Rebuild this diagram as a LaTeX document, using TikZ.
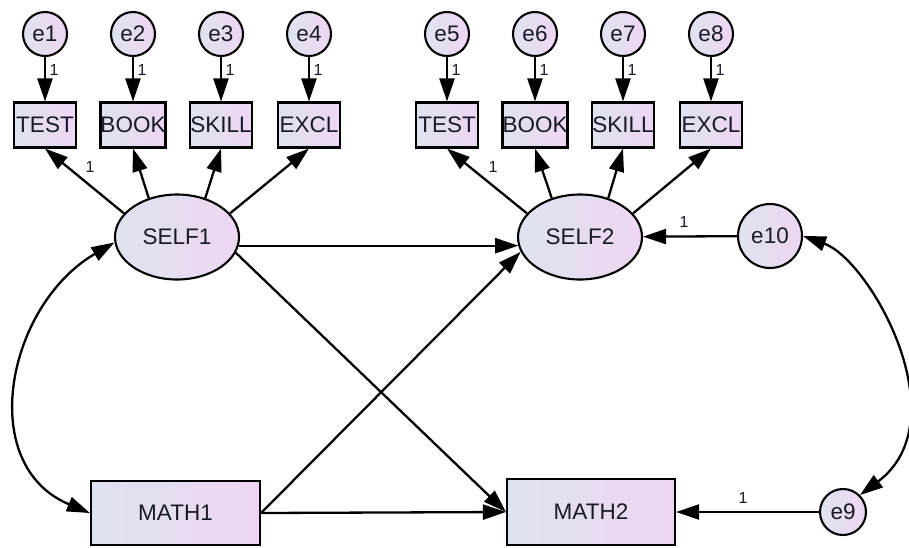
\documentclass[tikz,border=0pt]{standalone}
\usepackage{fontspec}
\setmainfont{Liberation Sans}
\usetikzlibrary{arrows.meta,shapes.geometric}
\definecolor{fillL}{RGB}{222,227,239}
\definecolor{fillR}{RGB}{238,214,242}
\definecolor{ink}{RGB}{25,25,42}

\begin{document}
\begin{tikzpicture}[x=1pt,y=-1pt,
  every node/.style={font=\fontsize{22.5}{25}\selectfont, text=ink, inner sep=0pt},
  gradfill/.style={left color=fillL, right color=fillR},
  errc/.style={circle, draw, line width=2.1pt, gradfill, minimum size=44pt},
  obsbox/.style={rectangle, draw, line width=2.1pt, gradfill, minimum width=62pt, minimum height=45pt},
  latent/.style={ellipse, draw, line width=2.1pt, gradfill, minimum width=124pt, minimum height=85pt},
  tipA/.tip={Triangle[length=23pt,width=15pt]},
  arr/.style={line width=2.3pt, -tipA},
  darr/.style={line width=2.3pt, tipA-tipA},
  wlab/.style={font=\fontsize{16}{18}\selectfont}
]
\useasboundingbox (0,0) rectangle (909,547);

% error terms and their indicators
\foreach \i/\x/\t in {1/45/TEST,2/133/BOOK,3/221/SKILL,4/309/EXCL,
                      5/447/TEST,6/535/BOOK,7/623/SKILL,8/711/EXCL} {
  \node[errc] (e\i) at (\x,34) {e\i};
  \node[obsbox] (v\i) at (\x,125) {\t};
  \draw[arr] (e\i) -- (v\i);
  \node[wlab] (w\i) at (\x+9,70) {1};
}

% latent factors
\node[latent] (SELF1) at (177,237) {SELF1};
\node[latent] (SELF2) at (580,237) {SELF2};

% observed outcomes and residuals
\node[obsbox, minimum width=169pt, minimum height=64pt] (MATH1) at (175.5,513) {MATH1};
\node[obsbox, minimum width=168pt, minimum height=66pt] (MATH2) at (591,512) {MATH2};
\node[errc, minimum size=64pt] (e10) at (770,236) {e10};
\node[errc, minimum size=46pt] (e9) at (843,512) {e9};

% loadings: from the factor's rim to the bottom of each indicator
\foreach \f/\a/\b/\c/\d in {SELF1/1/2/3/4, SELF2/5/6/7/8} {
  \draw[arr] (\f.156) -- (v\a.south);
  \draw[arr] (\f.126) -- (v\b.south);
  \draw[arr] (\f.54)  -- (v\c.south);
  \draw[arr] (\f.24)  -- (v\d.south);
}
\node[wlab] (w9) at (90,167) {1};
\node[wlab] (w10) at (493,167) {1};

% structural paths
\draw[arr] (SELF1.-8) -- (SELF2.188);
\draw[arr] (SELF1.-15) -- (MATH2.west);
\draw[arr] (MATH1.east) -- (SELF2.194);
\draw[arr] (MATH1.east) -- (MATH2.west);
\draw[arr] (e10) -- (SELF2);
\draw[arr] (e9) -- (MATH2);
\node[wlab] (w11) at (684,222) {1};
\node[wlab] (w12) at (743,498) {1};

% covariances
\draw[darr] (SELF1.185) .. controls (7,305) and (-25,465) .. (MATH1.west);
\draw[darr] (e10.east) .. controls (870,260) and (960,420) .. (e9.45);
\end{tikzpicture}
\end{document}
